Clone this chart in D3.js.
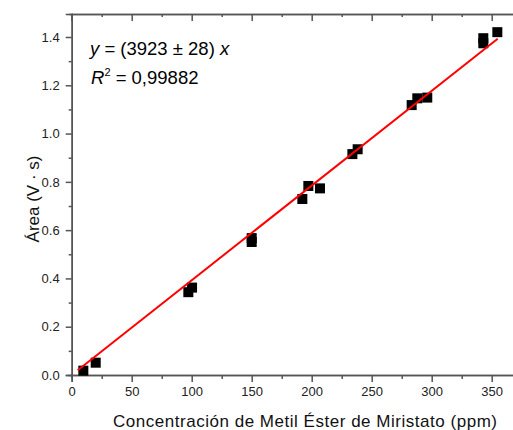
<!DOCTYPE html>
<html>
<head>
<meta charset="utf-8">
<script src="https://cdn.jsdelivr.net/npm/d3@7"></script>
<style>
  html, body { margin: 0; padding: 0; background: #fff; }
  svg { display: block; font-family: "Liberation Sans", Arial, sans-serif; }
</style>
</head>
<body>
<svg id="chart" width="513" height="430"></svg>
<script>
// Calibration data: methyl myristate concentration (ppm) vs. peak area (V·s)
const concentration = [9.7, 20, 97.2, 100.3, 150, 150, 192.2, 197.2, 206.9, 233.9, 238.3, 283.3, 288, 296.3, 343, 343, 354.7];
const area = [0.018, 0.051, 0.343, 0.362, 0.551, 0.567, 0.729, 0.783, 0.773, 0.915, 0.935, 1.118, 1.146, 1.149, 1.395, 1.374, 1.42];

// Linear fit through the origin (slope in units of 1e-6 per ppm)
const slope = 3923;
const slopeErr = 28;
const r2 = "0,99882";
const fitRange = [5, 355];

const xTicks = [0, 50, 100, 150, 200, 250, 300, 350];
const xMinorTicks = [25, 75, 125, 175, 225, 275, 325, 375];
const yTicks = [0, 0.2, 0.4, 0.6, 0.8, 1.0, 1.2, 1.4];
const yMinorTicks = [0.1, 0.3, 0.5, 0.7, 0.9, 1.1, 1.3];

const svg = d3.select("#chart");
const axisColor = "#555";

const x = d3.scaleLinear().domain([0, 375]).range([71.7, 521.7]);
const y = d3.scaleLinear().domain([0, 1.495]).range([375, 14.06]);

const plotLeft = x(0), plotBottom = y(0), plotTop = y(1.495);

function styleAxis(g) {
  g.selectAll("path.domain").attr("stroke", axisColor).attr("stroke-width", 1.5);
  g.selectAll(".tick line").attr("stroke", axisColor).attr("stroke-width", 1.5);
  g.selectAll(".tick text").attr("fill", "#222").attr("font-size", 13)
    .attr("font-family", "Liberation Sans, Arial, sans-serif");
}

// Bottom axis
svg.append("g").attr("transform", `translate(0,${plotBottom})`)
  .call(d3.axisBottom(x).tickValues(xMinorTicks).tickSize(4).tickFormat(""))
  .call(styleAxis);
svg.append("g").attr("transform", `translate(0,${plotBottom})`)
  .call(d3.axisBottom(x).tickValues(xTicks).tickSize(7).tickPadding(5).tickFormat(d3.format("d")))
  .call(styleAxis);

// Top frame with inward ticks
svg.append("g").attr("transform", `translate(0,${plotTop})`)
  .call(d3.axisTop(x).tickValues(xMinorTicks).tickSize(-3).tickFormat(""))
  .call(styleAxis);
svg.append("g").attr("transform", `translate(0,${plotTop})`)
  .call(d3.axisTop(x).tickValues(xTicks).tickSize(-7).tickFormat(""))
  .call(styleAxis);

// Left axis
svg.append("g").attr("transform", `translate(${plotLeft},0)`)
  .call(d3.axisLeft(y).tickValues(yMinorTicks).tickSize(3).tickFormat(""))
  .call(styleAxis);
svg.append("g").attr("transform", `translate(${plotLeft},0)`)
  .call(d3.axisLeft(y).tickValues(yTicks).tickSize(6).tickPadding(6).tickFormat(d3.format(".1f")))
  .call(styleAxis);

// Data points
const size = 10;
svg.append("g").selectAll("rect")
  .data(d3.zip(concentration, area))
  .join("rect")
  .attr("x", d => x(d[0]) - size / 2)
  .attr("y", d => y(d[1]) - size / 2)
  .attr("width", size)
  .attr("height", size)
  .attr("fill", "#000");

// Fit line
const fitLine = d3.line().x(d => x(d)).y(d => y(slope * 1e-6 * d));
svg.append("path")
  .attr("d", fitLine(fitRange))
  .attr("stroke", "#f00")
  .attr("stroke-width", 2)
  .attr("fill", "none");

// Equation
const eq = svg.append("text").attr("x", 90).attr("y", 55).attr("font-size", 18.5).attr("fill", "#000");
eq.append("tspan").attr("font-style", "italic").text("y");
eq.append("tspan").text(` = (${slope} ± ${slopeErr}) `);
eq.append("tspan").attr("font-style", "italic").text("x");

const r = svg.append("text").attr("x", 91).attr("y", 84).attr("font-size", 18.5).attr("fill", "#000");
r.append("tspan").attr("font-style", "italic").text("R");
r.append("tspan").attr("font-size", 11).attr("dy", -8).text("2");
r.append("tspan").attr("dy", 8).text(` = ${r2}`);

// Axis titles
svg.append("text")
  .attr("x", 305).attr("y", 427)
  .attr("text-anchor", "middle")
  .attr("font-size", 17).attr("fill", "#111")
  .attr("textLength", 384).attr("lengthAdjust", "spacing")
  .text("Concentración de Metil Éster de Miristato (ppm)");

svg.append("text")
  .attr("transform", "translate(39,199) rotate(-90)")
  .attr("text-anchor", "middle")
  .attr("font-size", 17).attr("fill", "#111")
  .text("Área (V · s)");
</script>
</body>
</html>
